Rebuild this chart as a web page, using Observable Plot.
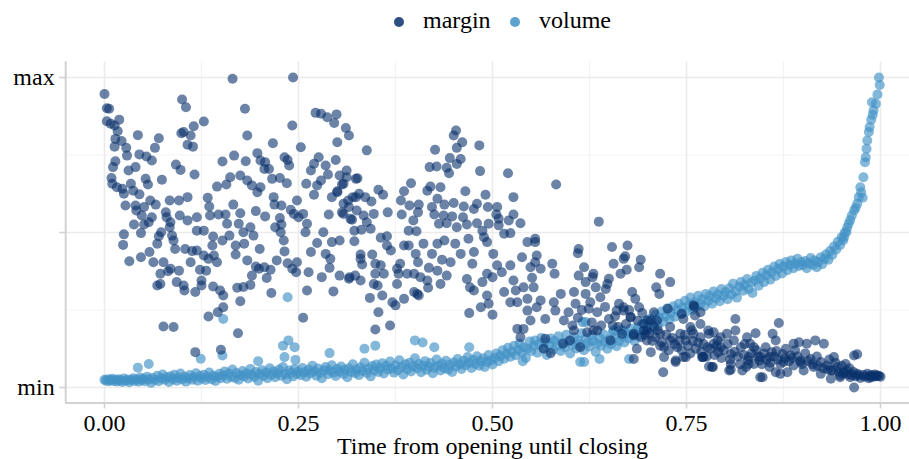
<!DOCTYPE html>
<html><head><meta charset="utf-8">
<script src="https://cdn.jsdelivr.net/npm/d3@7"></script>
<script src="https://cdn.jsdelivr.net/npm/@observablehq/plot@0.6"></script>
<style>
body{margin:0;background:#fff;font-family:"Liberation Serif",serif;}
#legend{position:relative;height:44px;width:909px;font-size:24px;color:#000;}
.key{position:absolute;top:17px;width:10px;height:10px;border-radius:50%;opacity:0.85;}
.lab{position:absolute;top:5px;line-height:30px;white-space:nowrap;}
#chart svg{display:block;}
</style></head><body>
<div id="legend"></div>
<div id="chart"></div>
<script>
const seriesNames = ["margin", "volume"];
const seriesColors = ["#08306b", "#4292c6"];
const xTicks = [0, 0.25, 0.5, 0.75, 1];
const xTickLabels = ["0.00", "0.25", "0.50", "0.75", "1.00"];
const xMinor = [0.125, 0.375, 0.625, 0.875];
const yTicks = [0, 0.5, 1];
const yTickLabels = ["min", "", "max"];
const yMinor = [0.25, 0.75];
const xTitle = "Time from opening until closing";

// margin series: [time, scaled value]
const marginPoints = [
[0.000,0.947],[0.003,0.901],[0.006,0.899],[0.003,0.859],[0.008,0.851],[0.013,0.845],[0.019,0.864],[0.017,0.827],[0.014,0.802],[0.022,0.795],
[0.013,0.777],[0.028,0.773],[0.029,0.748],[0.043,0.814],[0.045,0.752],[0.054,0.745],[0.061,0.732],[0.065,0.773],[0.070,0.804],[0.014,0.730],
[0.011,0.711],[0.031,0.700],[0.040,0.711],[0.009,0.676],[0.010,0.657],[0.016,0.646],[0.023,0.641],[0.034,0.657],[0.037,0.635],[0.025,0.625],
[0.045,0.623],[0.053,0.673],[0.056,0.655],[0.027,0.587],[0.040,0.587],[0.051,0.582],[0.041,0.571],[0.048,0.555],[0.061,0.549],[0.059,0.603],
[0.066,0.590],[0.074,0.670],[0.038,0.526],[0.051,0.526],[0.057,0.533],[0.025,0.494],[0.047,0.498],[0.073,0.501],[0.070,0.488],[0.079,0.565],
[0.080,0.549],[0.085,0.533],[0.084,0.517],[0.087,0.490],[0.097,0.555],[0.084,0.603],[0.096,0.603],[0.107,0.614],[0.107,0.539],[0.119,0.549],
[0.119,0.506],[0.128,0.506],[0.092,0.719],[0.098,0.702],[0.116,0.687],[0.100,0.929],[0.105,0.904],[0.099,0.820],[0.102,0.824],[0.111,0.813],
[0.115,0.843],[0.107,0.783],[0.114,0.777],[0.128,0.858],[0.133,0.612],[0.135,0.584],[0.136,0.555],[0.145,0.648],[0.152,0.729],[0.157,0.655],
[0.162,0.678],[0.167,0.748],[0.166,0.590],[0.147,0.558],[0.156,0.558],[0.158,0.528],[0.175,0.562],[0.173,0.528],[0.179,0.501],[0.175,0.684],
[0.184,0.668],[0.190,0.652],[0.197,0.630],[0.201,0.646],[0.182,0.730],[0.197,0.756],[0.201,0.732],[0.207,0.727],[0.212,0.705],[0.206,0.705],
[0.195,0.569],[0.207,0.552],[0.218,0.614],[0.219,0.590],[0.216,0.673],[0.226,0.676],[0.235,0.659],[0.228,0.587],[0.226,0.547],[0.228,0.526],
[0.220,0.517],[0.188,0.517],[0.192,0.490],[0.227,0.501],[0.165,0.996],[0.181,0.899],[0.184,0.813],[0.217,0.788],[0.232,0.743],[0.236,0.734],
[0.238,0.716],[0.243,1.000],[0.242,0.845],[0.253,0.775],[0.240,0.573],[0.244,0.560],[0.248,0.603],[0.250,0.549],[0.256,0.560],[0.259,0.501],
[0.261,0.528],[0.260,0.657],[0.270,0.622],[0.274,0.652],[0.266,0.700],[0.270,0.722],[0.276,0.743],[0.285,0.716],[0.279,0.668],[0.288,0.687],
[0.298,0.734],[0.282,0.501],[0.289,0.558],[0.293,0.614],[0.303,0.684],[0.312,0.700],[0.308,0.657],[0.300,0.630],[0.314,0.603],[0.306,0.565],
[0.319,0.541],[0.324,0.614],[0.324,0.673],[0.272,0.886],[0.279,0.883],[0.287,0.872],[0.299,0.881],[0.296,0.853],[0.311,0.837],[0.315,0.813],
[0.300,0.791],[0.322,0.506],
[0.338,0.765],[0.312,0.678],[0.326,0.675],[0.306,0.655],[0.300,0.633],[0.320,0.614],[0.328,0.625],[0.336,0.614],[0.344,0.600],[0.353,0.638],
[0.359,0.622],[0.308,0.593],[0.315,0.582],[0.325,0.571],[0.308,0.560],[0.317,0.544],[0.334,0.555],[0.347,0.560],[0.338,0.533],[0.331,0.509],
[0.343,0.512],[0.365,0.565],[0.383,0.558],[0.386,0.633],[0.395,0.659],[0.393,0.587],[0.405,0.590],[0.404,0.565],[0.398,0.539],[0.392,0.506],
[0.402,0.504],[0.356,0.483],[0.364,0.488],[0.416,0.635],[0.420,0.648],[0.433,0.646],[0.419,0.711],[0.428,0.713],[0.426,0.767],[0.441,0.709],
[0.444,0.691],[0.445,0.740],[0.454,0.721],[0.459,0.737],[0.454,0.773],[0.461,0.791],[0.450,0.813],[0.453,0.829],[0.483,0.781],[0.484,0.698],
[0.429,0.609],[0.465,0.633],[0.491,0.622],[0.438,0.590],[0.450,0.595],[0.422,0.582],[0.425,0.558],[0.437,0.555],[0.448,0.552],[0.462,0.549],
[0.463,0.584],[0.476,0.576],[0.480,0.593],[0.494,0.582],[0.506,0.582],[0.505,0.558],[0.431,0.528],[0.441,0.530],[0.454,0.517],[0.467,0.526],
[0.480,0.530],[0.495,0.528],[0.508,0.544],[0.508,0.523],[0.521,0.539],[0.527,0.558],[0.527,0.614],[0.520,0.691],[0.536,0.530],[0.515,0.496],
[0.523,0.498],[0.487,0.506],[0.489,0.485],[0.582,0.655],[0.637,0.535],[0.555,0.480],[0.382,0.603],
[0.024,0.460],[0.032,0.407],[0.047,0.420],[0.058,0.437],[0.063,0.404],[0.068,0.464],[0.076,0.404],[0.072,0.367],[0.082,0.375],[0.085,0.383],
[0.096,0.377],[0.091,0.447],[0.089,0.474],[0.104,0.447],[0.113,0.440],[0.119,0.442],[0.111,0.404],[0.123,0.380],[0.131,0.377],[0.128,0.426],
[0.134,0.415],[0.139,0.458],[0.141,0.426],[0.145,0.404],[0.140,0.487],[0.152,0.474],[0.161,0.490],[0.169,0.458],[0.169,0.429],[0.180,0.464],
[0.184,0.410],[0.190,0.361],[0.199,0.383],[0.209,0.353],[0.214,0.380],[0.222,0.410],[0.232,0.439],[0.236,0.401],[0.242,0.383],[0.248,0.404],
[0.247,0.372],[0.263,0.372],[0.280,0.356],[0.290,0.386],[0.266,0.437],[0.285,0.431],[0.291,0.415],[0.303,0.361],[0.315,0.351],[0.295,0.310],
[0.261,0.313],[0.215,0.305],[0.068,0.329],[0.072,0.334],[0.093,0.340],[0.102,0.329],[0.103,0.313],[0.117,0.308],[0.125,0.345],[0.125,0.329],
[0.140,0.326],[0.149,0.313],[0.153,0.297],[0.171,0.322],[0.179,0.324],[0.188,0.331],[0.175,0.278],[0.153,0.259],[0.146,0.243],[0.134,0.229],
[0.076,0.197],[0.089,0.195],[0.172,0.175],[0.256,0.225],[0.117,0.114],[0.150,0.122],[0.231,0.474],[0.274,0.466],[0.293,0.469],[0.303,0.474],
[0.200,0.447],[0.195,0.390],[0.206,0.388],
[0.322,0.472],[0.330,0.429],[0.332,0.397],[0.316,0.356],[0.323,0.361],[0.330,0.345],[0.345,0.429],[0.349,0.399],[0.356,0.394],[0.349,0.367],
[0.360,0.367],[0.347,0.334],[0.352,0.329],[0.342,0.289],[0.353,0.243],[0.349,0.187],[0.368,0.200],[0.371,0.275],[0.375,0.265],[0.386,0.286],
[0.379,0.367],[0.377,0.334],[0.381,0.399],[0.399,0.367],[0.404,0.404],[0.418,0.386],[0.399,0.308],[0.405,0.297],[0.417,0.322],[0.364,0.458],
[0.386,0.458],[0.401,0.431],[0.411,0.464],[0.422,0.431],[0.435,0.412],[0.446,0.404],[0.438,0.474],[0.459,0.431],[0.469,0.480],[0.476,0.437],
[0.474,0.399],[0.467,0.350],[0.471,0.323],[0.470,0.240],[0.485,0.259],[0.495,0.270],[0.500,0.235],[0.493,0.469],[0.501,0.431],[0.506,0.394],
[0.523,0.394],[0.512,0.372],[0.500,0.356],[0.515,0.308],[0.527,0.345],[0.530,0.313],[0.532,0.275],[0.523,0.275],[0.532,0.189],
[0.330,0.415],[0.369,0.442],[0.392,0.458],[0.429,0.464],[0.452,0.464],[0.377,0.383],[0.390,0.367],[0.407,0.356],[0.429,0.377],[0.441,0.361],
[0.416,0.345],[0.433,0.334],[0.487,0.340],[0.493,0.367],[0.476,0.313],[0.493,0.297],[0.358,0.297],[0.403,0.302],
[0.545,0.469],[0.555,0.469],[0.557,0.426],[0.555,0.404],[0.562,0.383],[0.577,0.399],[0.580,0.367],[0.549,0.388],[0.538,0.420],[0.551,0.354],
[0.553,0.323],[0.540,0.323],[0.545,0.286],[0.562,0.281],[0.557,0.259],[0.568,0.221],[0.549,0.216],[0.540,0.189],[0.579,0.275],[0.588,0.302],
[0.581,0.248],[0.592,0.216],[0.598,0.243],[0.607,0.270],[0.605,0.308],[0.611,0.447],[0.610,0.433],[0.618,0.388],[0.611,0.361],[0.620,0.340],
[0.629,0.356],[0.633,0.323],[0.620,0.302],[0.626,0.275],[0.624,0.254],[0.639,0.291],[0.646,0.318],[0.650,0.351],[0.656,0.399],[0.654,0.453],
[0.674,0.458],[0.671,0.423],[0.673,0.380],[0.665,0.367],[0.689,0.388],[0.663,0.270],[0.660,0.248],[0.680,0.308],[0.684,0.286],[0.689,0.259],
[0.678,0.227],[0.650,0.221],[0.635,0.243],[0.716,0.367],[0.729,0.340],[0.711,0.323],[0.715,0.302],[0.726,0.254],[0.708,0.243],[0.700,0.216],
[0.712,0.216],[0.744,0.238],[0.759,0.265],[0.761,0.232],[0.755,0.195],[0.768,0.205],[0.695,0.184],[0.682,0.168],[0.699,0.152],[0.710,0.162],
[0.716,0.135],[0.729,0.152],[0.738,0.130],[0.749,0.152],[0.759,0.173],[0.768,0.162],[0.746,0.098],[0.736,0.087],[0.721,0.098],[0.704,0.114],
[0.686,0.125],[0.682,0.092],[0.720,0.049],[0.771,0.098],[0.779,0.068],[0.622,0.178],[0.635,0.184],[0.605,0.184],[0.600,0.152],[0.591,0.141],
[0.613,0.130],[0.568,0.157],[0.566,0.125],[0.575,0.111],[0.545,0.248],[0.536,0.162],[0.652,0.152],[0.667,0.173],
[0.630,0.367],[0.648,0.334],[0.669,0.259],[0.630,0.184],
[0.813,0.221],[0.869,0.208],[0.839,0.175],[0.861,0.173],[0.865,0.152],[0.852,0.130],[0.832,0.141],[0.895,0.146],[0.916,0.152],[0.927,0.141],
[0.905,0.141],[0.966,0.103],[0.940,0.098],[0.955,0.076],[0.966,0.000],[0.845,0.033],[0.865,0.049],[0.880,0.049],[0.901,0.055],[0.936,0.028],
[0.948,0.039],[0.970,0.044],[0.983,0.044],[0.996,0.039],[1.000,0.035],[0.991,0.035],[0.974,0.031],[0.957,0.055],[0.961,0.033],[0.784,0.066],
[0.807,0.057],[0.822,0.055],[0.830,0.076],[0.772,0.098],[0.777,0.130],[0.785,0.141],[0.794,0.162],[0.802,0.173],[0.811,0.152],[0.820,0.130],
[0.807,0.108],[0.791,0.114],[0.778,0.184],[0.785,0.178],[0.830,0.098],[0.844,0.087],[0.857,0.098],[0.874,0.108],[0.884,0.103],[0.897,0.087],
[0.910,0.092],[0.923,0.082],[0.931,0.071],[0.944,0.066],[0.953,0.049],[0.875,0.082],[0.888,0.071],[0.857,0.066],[0.827,0.066],[0.837,0.076],
[0.914,0.066],[0.923,0.044],[0.871,0.044],
[0.669,0.415],[0.691,0.412],[0.760,0.261],[0.746,0.221],[0.768,0.243],[0.721,0.130],[0.736,0.082],[0.749,0.098],[0.770,0.098],[0.783,0.066],
[0.805,0.055],[0.807,0.076],[0.794,0.130],[0.790,0.152],[0.779,0.173],[0.757,0.184],[0.742,0.173],[0.729,0.195],[0.716,0.173],[0.708,0.195],
[0.699,0.184],[0.691,0.162],[0.682,0.173],[0.695,0.205],[0.669,0.248],[0.678,0.227],[0.704,0.216],[0.813,0.184],[0.828,0.162],[0.837,0.130],
[0.845,0.098],[0.860,0.114],[0.871,0.076],[0.897,0.082],[0.936,0.055],[0.948,0.033],[0.987,0.033],[0.848,0.033],[0.888,0.141],[0.970,0.107],
[0.978,0.040],[0.986,0.038],[0.993,0.042],[0.998,0.037],[0.965,0.050],[0.960,0.062],[0.950,0.070],[0.942,0.080],[0.934,0.090],[0.918,0.100],
[0.903,0.110],[0.890,0.120],[0.878,0.125],[0.866,0.118],[0.850,0.110],[0.840,0.120],[0.825,0.140],
[0.702,0.175],[0.706,0.150],[0.713,0.185],[0.718,0.145],[0.724,0.170],[0.727,0.120],[0.732,0.160],[0.735,0.140],[0.741,0.150],[0.744,0.120],
[0.748,0.170],[0.752,0.135],[0.755,0.110],[0.758,0.150],[0.762,0.125],[0.765,0.145],[0.769,0.115],[0.772,0.140],[0.776,0.100],[0.781,0.125],
[0.786,0.105],[0.789,0.135],[0.795,0.095],[0.798,0.120],[0.803,0.140],[0.806,0.090],[0.812,0.115],[0.816,0.100],[0.819,0.075],[0.824,0.105],
[0.829,0.088],[0.834,0.110],[0.842,0.100],[0.847,0.075],[0.853,0.090],[0.858,0.080],[0.863,0.100],[0.868,0.090],[0.877,0.095],[0.882,0.085],
[0.886,0.095],[0.893,0.100],[0.899,0.075],[0.907,0.085],[0.912,0.075],[0.919,0.070],[0.926,0.062],[0.932,0.058],[0.939,0.055],[0.946,0.050],
[0.952,0.045],[0.958,0.042],[0.963,0.040],[0.968,0.036],[0.972,0.040],[0.980,0.035],[0.985,0.030],[0.989,0.040],[0.994,0.036],
[0.603,0.200],[0.610,0.225],[0.615,0.250],[0.628,0.210],[0.640,0.200],[0.645,0.260],[0.655,0.200],[0.658,0.230],[0.662,0.195],[0.672,0.205],
[0.676,0.250],[0.687,0.215],[0.693,0.240],[0.697,0.170]
];

// volume series: [time, scaled value]
const volumePoints = [
[0.000,0.025],[0.002,0.022],[0.004,0.027],[0.006,0.020],[0.008,0.024],[0.010,0.028],[0.012,0.021],[0.014,0.025],[0.016,0.019],[0.018,0.027],
[0.020,0.023],[0.023,0.018],[0.025,0.029],[0.027,0.022],[0.030,0.026],[0.032,0.017],[0.034,0.024],[0.037,0.030],[0.039,0.021],[0.041,0.027],
[0.044,0.019],[0.046,0.032],[0.048,0.024],[0.050,0.028],
[0.052,0.020],[0.055,0.035],[0.057,0.026],[0.060,0.015],[0.062,0.031],[0.065,0.024],[0.068,0.038],[0.070,0.020],[0.073,0.029],[0.075,0.042],
[0.078,0.025],[0.080,0.033],[0.083,0.018],[0.085,0.036],[0.088,0.027],[0.090,0.041],[0.093,0.022],[0.095,0.031],[0.098,0.045],[0.100,0.026],
[0.103,0.035],[0.105,0.019],[0.108,0.030],[0.110,0.040],[0.113,0.025],[0.115,0.034],[0.118,0.046],[0.120,0.022],[0.123,0.037],[0.125,0.029],
[0.128,0.041],[0.130,0.024],[0.133,0.033],[0.135,0.048],[0.138,0.027],[0.140,0.038],[0.143,0.021],[0.145,0.035],[0.148,0.044],[0.150,0.030],
[0.153,0.039],[0.155,0.052],[0.158,0.028],[0.160,0.045],[0.163,0.035],[0.165,0.058],[0.168,0.031],[0.170,0.047],[0.173,0.025],[0.175,0.040],
[0.178,0.053],[0.180,0.036],[0.183,0.046],[0.185,0.029],[0.188,0.060],[0.190,0.042],[0.193,0.034],[0.195,0.050],[0.198,0.022],[0.200,0.044],
[0.203,0.056],[0.205,0.037],[0.208,0.048],[0.210,0.030],[0.213,0.062],[0.215,0.041],[0.218,0.052],[0.220,0.033],[0.223,0.045],[0.225,0.058],
[0.228,0.038],[0.230,0.066],[0.233,0.043],[0.235,0.027],[0.238,0.055],[0.240,0.047],[0.243,0.036],[0.245,0.060],[0.248,0.044],[0.250,0.052],
[0.253,0.040],[0.255,0.063],[0.258,0.049],[0.260,0.035],[0.263,0.058],[0.265,0.045],[0.268,0.070],[0.270,0.052],[0.273,0.038],[0.275,0.061],
[0.278,0.047],[0.280,0.030],[0.283,0.056],[0.285,0.066],[0.288,0.043],[0.290,0.054],[0.293,0.072],[0.295,0.048],[0.298,0.037],[0.300,0.060],
[0.303,0.051],[0.305,0.068],[0.308,0.044],[0.310,0.057],[0.313,0.033],[0.315,0.062],[0.318,0.050],[0.320,0.075],[0.323,0.046],[0.325,0.058],
[0.328,0.040],[0.330,0.065],[0.333,0.053],[0.335,0.080],[0.338,0.047],[0.340,0.061],[0.343,0.036],[0.345,0.069],[0.348,0.055],[0.350,0.074],
[0.353,0.050],[0.355,0.063],[0.358,0.078],[0.360,0.045],[0.363,0.070],[0.365,0.058],[0.368,0.084],[0.370,0.061],[0.373,0.048],[0.375,0.072],
[0.378,0.056],[0.380,0.088],[0.383,0.066],[0.385,0.042],[0.388,0.075],[0.390,0.059],[0.393,0.080],[0.395,0.052],[0.398,0.068],[0.400,0.094],
[0.403,0.062],[0.405,0.076],[0.408,0.049],[0.410,0.071],[0.413,0.085],[0.415,0.057],[0.418,0.067],[0.420,0.079],[0.423,0.046],[0.425,0.064],
[0.428,0.090],[0.430,0.070],[0.433,0.055],[0.435,0.077],[0.438,0.062],[0.440,0.086],[0.443,0.058],[0.445,0.073],[0.448,0.050],[0.450,0.081],
[0.453,0.068],[0.455,0.092],[0.458,0.075],[0.460,0.060],[0.463,0.086],[0.465,0.072],[0.468,0.098],[0.470,0.079],[0.473,0.063],[0.475,0.089],
[0.478,0.076],[0.480,0.101],[0.483,0.070],[0.485,0.085],[0.488,0.094],[0.490,0.066],[0.493,0.082],[0.495,0.105],[0.498,0.088],[0.500,0.074],
[0.503,0.096],[0.505,0.110],[0.508,0.085],[0.510,0.102],[0.513,0.120],[0.515,0.093],[0.518,0.108],[0.520,0.128],[0.523,0.099],[0.525,0.115],
[0.528,0.135],[0.530,0.104],[0.533,0.121],[0.535,0.142],[0.538,0.112],[0.540,0.130],[0.543,0.095],[0.545,0.125],[0.548,0.148],[0.550,0.118],
[0.553,0.135],[0.555,0.152],[0.558,0.112],[0.560,0.140],[0.563,0.160],[0.565,0.128],[0.568,0.146],[0.570,0.105],[0.573,0.138],[0.575,0.158],
[0.578,0.122],[0.580,0.150],[0.583,0.135],[0.585,0.165],[0.588,0.118],[0.590,0.144],[0.593,0.130],[0.595,0.170],[0.598,0.148],[0.600,0.110],
[0.603,0.137],[0.605,0.162],[0.608,0.126],[0.610,0.152],[0.613,0.140],[0.615,0.175],[0.618,0.120],[0.620,0.158],[0.623,0.145],[0.625,0.132],
[0.628,0.168],[0.630,0.150],[0.633,0.115],[0.635,0.142],[0.638,0.160],[0.640,0.135],[0.643,0.172],[0.645,0.148],[0.648,0.125],[0.650,0.155],
[0.653,0.140],[0.655,0.178],[0.658,0.160],[0.660,0.133],[0.663,0.150],[0.665,0.185],[0.668,0.165],[0.670,0.145],[0.673,0.175],[0.675,0.158],
[0.678,0.190],[0.680,0.170],[0.683,0.150],[0.685,0.182],[0.688,0.195],[0.690,0.168],[0.693,0.205],[0.695,0.185],[0.698,0.215],[0.700,0.198],
[0.703,0.222],[0.705,0.190],[0.708,0.210],[0.710,0.235],[0.713,0.200],[0.715,0.225],[0.718,0.245],[0.720,0.212],[0.723,0.230],[0.725,0.255],
[0.728,0.220],[0.730,0.240],[0.733,0.262],[0.735,0.228],[0.738,0.250],[0.740,0.270],[0.743,0.238],[0.745,0.258],[0.748,0.280],[0.750,0.245],
[0.753,0.265],[0.755,0.290],[0.758,0.252],[0.760,0.275],[0.763,0.260],[0.765,0.296],[0.768,0.270],[0.770,0.285],[0.773,0.262],[0.775,0.302],
[0.778,0.280],[0.780,0.295],[0.783,0.270],[0.785,0.310],[0.788,0.288],[0.790,0.300],[0.793,0.278],[0.795,0.318],[0.798,0.296],[0.800,0.308],
[0.803,0.285],[0.805,0.320],[0.808,0.300],[0.810,0.335],[0.813,0.310],[0.815,0.290],[0.818,0.325],[0.820,0.340],[0.823,0.312],[0.825,0.330],
[0.828,0.350],[0.830,0.318],[0.833,0.338],[0.835,0.305],[0.838,0.345],[0.840,0.360],[0.843,0.328],[0.845,0.352],[0.848,0.370],[0.850,0.340],
[0.853,0.362],[0.855,0.380],[0.858,0.348],[0.860,0.372],[0.863,0.390],[0.865,0.360],[0.868,0.382],[0.870,0.398],[0.873,0.368],[0.875,0.390],
[0.878,0.405],[0.880,0.378],[0.883,0.395],[0.885,0.410],[0.888,0.385],[0.890,0.400],[0.893,0.415],[0.895,0.392],[0.898,0.405],[0.900,0.395],
[0.903,0.408],[0.905,0.385],[0.908,0.400],[0.910,0.418],[0.913,0.395],[0.915,0.410],[0.918,0.388],[0.920,0.405],[0.923,0.420],[0.925,0.398],
[0.928,0.415],[0.930,0.430],[0.933,0.412],[0.935,0.440],[0.938,0.428],[0.940,0.455],[0.943,0.445],[0.945,0.470],[0.948,0.460],[0.950,0.485],
[0.952,0.475],[0.954,0.500],
[0.953,0.485],[0.956,0.501],[0.957,0.515],[0.959,0.528],[0.961,0.540],[0.963,0.555],[0.966,0.571],[0.968,0.580],[0.970,0.593],[0.972,0.614],
[0.977,0.612],[0.974,0.646],[0.975,0.630],[0.978,0.678],[0.980,0.727],[0.981,0.743],[0.982,0.770],[0.983,0.797],[0.985,0.824],[0.986,0.840],
[0.988,0.864],[0.990,0.880],[0.991,0.894],[0.994,0.915],[0.989,0.920],[0.996,0.945],[0.999,0.976],[0.998,1.000],
[0.236,0.291],[0.153,0.221],[0.237,0.152],[0.230,0.135],[0.245,0.130],[0.232,0.098],[0.246,0.089],[0.152,0.103],[0.124,0.093],[0.043,0.064],
[0.057,0.076],[0.198,0.085],[0.290,0.111],[0.400,0.152],[0.410,0.145],[0.349,0.135],[0.335,0.125],[0.425,0.130],[0.470,0.130],[0.616,0.211],
[0.668,0.184],[0.613,0.082],[0.539,0.085],[0.618,0.082],[0.638,0.092],[0.676,0.092],[0.620,0.211],[0.656,0.184]
];

// legend (HTML, above the SVG)
const legend = document.getElementById("legend");
const keyX = [399, 515];
seriesNames.forEach((name, i) => {
  const k = document.createElement("div");
  k.className = "key";
  k.style.left = (keyX[i] - 5) + "px";
  k.style.background = seriesColors[i];
  legend.appendChild(k);
  const t = document.createElement("div");
  t.className = "lab";
  t.style.left = (keyX[i] + 24) + "px";
  t.textContent = name;
  legend.appendChild(t);
});

const toRows = (pts) => pts.map(([x, y]) => ({x, y}));
const marginData = toRows(marginPoints);
const volumeData = toRows(volumePoints);

const xLab = new Map(xTicks.map((d, i) => [d, xTickLabels[i]]));
const yLab = new Map(yTicks.map((d, i) => [d, yTickLabels[i]]));
const lo = -0.05, hi = 1.05;

const chart = Plot.plot({
  width: 909,
  height: 415,
  marginLeft: 65.2,
  marginRight: -9.8,
  marginTop: 17.5,
  marginBottom: 56.5,
  x: {domain: [lo, hi], range: [65.2, 918.8]},
  y: {domain: [lo, hi], range: [358.5, 17.5]},
  style: {fontFamily: "'Liberation Serif', serif", fontSize: "24px", color: "#000", background: "white"},
  marks: [
    Plot.ruleX(xMinor, {y1: lo, y2: hi, stroke: "#f3f3f3", strokeWidth: 1.2}),
    Plot.ruleY(yMinor, {x1: lo, x2: hi, stroke: "#f3f3f3", strokeWidth: 1.2}),
    Plot.ruleX(xTicks, {y1: lo, y2: hi, stroke: "#ebebeb", strokeWidth: 1.6}),
    Plot.ruleY(yTicks, {x1: lo, x2: hi, stroke: "#ebebeb", strokeWidth: 1.6}),
    Plot.dot(volumeData, {x: "x", y: "y", r: 5, fill: seriesColors[1], fillOpacity: 0.65, stroke: null}),
    Plot.dot(marginData, {x: "x", y: "y", r: 5, fill: seriesColors[0], fillOpacity: 0.6, stroke: null}),
    Plot.ruleX([lo], {y1: lo, y2: hi, stroke: "#d2d2d2", strokeWidth: 2}),
    Plot.ruleY([lo], {x1: lo, x2: hi, stroke: "#d2d2d2", strokeWidth: 2}),
    Plot.axisX(xTicks, {tickFormat: d => xLab.get(d), tickSize: 6, tickPadding: 5, stroke: "#d2d2d2", strokeWidth: 1.6, fill: "#000", label: null}),
    Plot.axisY(yTicks, {tickFormat: d => yLab.get(d), tickSize: 6, tickPadding: 5, stroke: "#d2d2d2", strokeWidth: 1.6, fill: "#000", label: null}),
    Plot.text([xTitle], {frameAnchor: "bottom", dy: 51, fill: "#000", fontSize: 24})
  ]
});
document.getElementById("chart").appendChild(chart);
</script>
</body></html>
